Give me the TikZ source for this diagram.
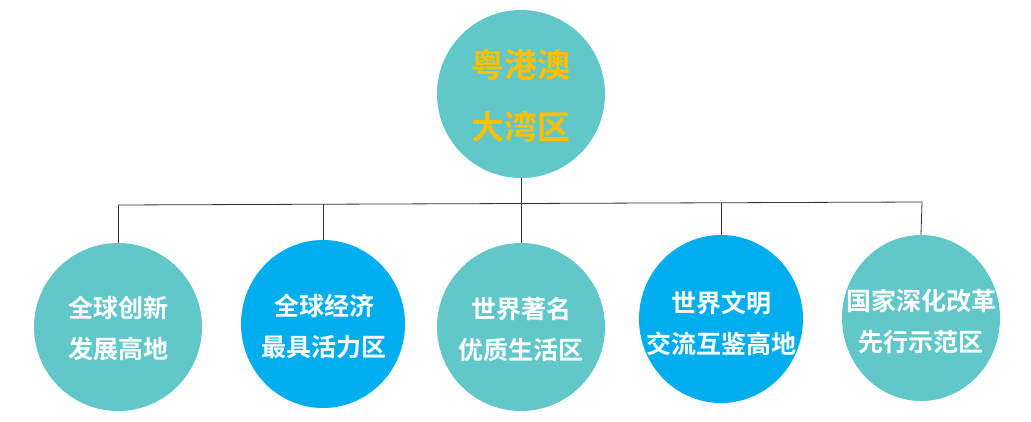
\documentclass[tikz,border=0pt]{standalone}
\usepackage{fontspec}
\newfontfamily\cjkb{Noto Sans CJK SC Bold}
\usetikzlibrary{shapes.geometric}
\definecolor{tealc}{HTML}{62C7C8}
\definecolor{bluec}{HTML}{00AEEF}
\definecolor{goldc}{HTML}{FFC000}
\definecolor{linec}{HTML}{333333}
\tikzset{
  circ/.style={ellipse, draw=none, inner sep=0pt, minimum width=#1},
  circ/.default=168pt,
  tealfill/.style={fill=tealc},
  bluefill/.style={fill=bluec},
  lbl/.style={text=white, align=center, inner sep=0pt, font=\cjkb\fontsize{25}{41}\selectfont},
  toplbl/.style={text=goldc, align=center, inner sep=0pt, font=\cjkb\fontsize{33}{62}\selectfont},
  conn/.style={draw=linec, line width=0.8pt},
}
\begin{document}
\begin{tikzpicture}[x=1pt,y=-1pt]
\useasboundingbox (0,0) rectangle (1031,422);
% top
\node[circ, tealfill, minimum height=168pt] (top) at (521,94) {};
\node[toplbl] (toptxt) at (521,96) {粤港澳\\大湾区};
% bottom circles
\node[circ, tealfill, minimum height=168pt] (c1) at (118,327) {};
\node[circ=164pt, bluefill, minimum height=168pt] (c2) at (323,324) {};
\node[circ, tealfill, minimum height=168pt] (c3) at (521,327) {};
\node[circ=164pt, bluefill, minimum height=168pt] (c4) at (721,319) {};
\node[circ=158pt, tealfill, minimum height=166pt] (c5) at (921,318) {};
\node[lbl] (t1) at (118,328) {全球创新\\发展高地};
\node[lbl] (t2) at (324,326) {全球经济\\最具活力区};
\node[lbl] (t3) at (521,329) {世界著名\\优质生活区};
\node[lbl] (t4) at (721,323) {世界文明\\交流互鉴高地};
\node[lbl] (t5) at (921,321) {国家深化改革\\先行示范区};
% bus line
\coordinate (h1) at (118,205);
\coordinate (h2) at (323,204.2);
\coordinate (h4) at (721,202.8);
\coordinate (h5) at (922,202);
\draw[conn] (h1) -- (h5);
\draw[conn] (top.south) -- (c3.north);
\draw[conn] (h1) -- (c1.north);
\draw[conn] (h2) -- (c2.north);
\draw[conn] (h4) -- (c4.north);
\draw[conn] (h5) -- (c5.north);
\end{tikzpicture}
\end{document}
